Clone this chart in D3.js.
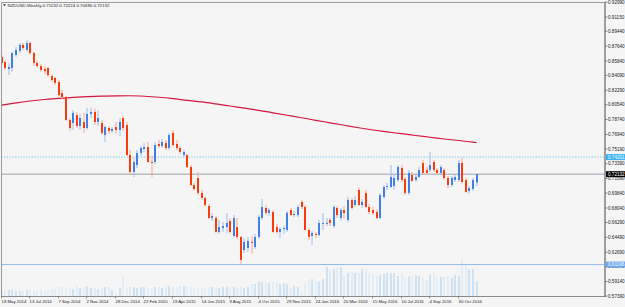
<!DOCTYPE html>
<html><head><meta charset="utf-8">
<script src="https://cdn.jsdelivr.net/npm/d3@7"></script>
<style>html,body{margin:0;padding:0;background:#f5f5f5;overflow:hidden}</style>
</head><body>
<svg id="c" width="625" height="307"></svg>
<script>
const titleText = "NZDUSD,Weekly 0.71132 0.72224 0.70690 0.72132";
const open = [.8631,.8571,.8486,.8498,.8655,.8704,.8777,.8716,.8801,.8680,.8559,.8522,.8486,.8498,.8401,.8377,.8329,.8196,.8147,.7869,
.7833,.7929,.7796,.7845,.7772,.7942,.7966,.7845,.7833,.7687,.7772,.7736,.7784,.7748,.7893,.7808,.7445,.7240,.7324,.7470,
.7518,.7542,.7361,.7361,.7579,.7554,.7591,.7530,.7712,.7579,.7530,.7445,.7445,.7300,.7082,.7167,.6986,.6925,.6828,.6683,
.6683,.6514,.6562,.6574,.6647,.6465,.6574,.6453,.6296,.6320,.6393,.6332,.6453,.6683,.6804,.6744,.6756,.6574,.6514,.6550,
.6538,.6780,.6719,.6719,.6877,.6816,.6538,.6465,.6490,.6477,.6611,.6611,.6659,.6586,.6804,.6683,.6780,.6659,.6901,.6840,
.7022,.6840,.6986,.6816,.6780,.6756,.6683,.6937,.7058,.7058,.7070,.7143,.7288,.7155,.6986,.7203,.7143,.7179,.7349,.7264,
.7264,.7361,.7264,.7228,.7264,.7167,.7082,.7143,.7143,.7349,.7143,.7010,.7034,.71132];
const high = [.8655,.8595,.8559,.8692,.8752,.8801,.8801,.8836,.8813,.8692,.8583,.8547,.8522,.8510,.8426,.8389,.8353,.8232,.8159,.7893,
.7990,.7966,.7942,.7954,.8014,.8014,.8002,.7990,.7869,.7808,.7796,.7784,.7845,.7893,.7917,.7845,.7506,.7409,.7506,.7554,
.7591,.7603,.7433,.7603,.7627,.7639,.7627,.7712,.7748,.7627,.7554,.7506,.7458,.7324,.7107,.7240,.7022,.6937,.6853,.6744,
.6707,.6659,.6635,.6744,.6683,.6719,.6683,.6465,.6441,.6453,.6465,.6490,.6719,.6913,.6840,.6804,.6780,.6611,.6574,.6586,
.6768,.6804,.6768,.6840,.6901,.6840,.6562,.6526,.6514,.6659,.6744,.6683,.6683,.6840,.6828,.6804,.6828,.6937,.6925,.6949,
.7058,.6913,.7022,.6853,.6816,.6792,.6986,.7082,.7107,.7324,.7203,.7324,.7324,.7179,.7264,.7240,.7216,.7300,.7385,.7300,
.7482,.7385,.7288,.7324,.7288,.7191,.7191,.7216,.7385,.7409,.7167,.7070,.7167,.72224];
const low = [.8534,.8474,.8413,.8450,.8631,.8680,.8716,.8692,.8655,.8522,.8498,.8450,.8426,.8389,.8329,.8292,.8159,.8123,.7857,.7736,
.7748,.7772,.7748,.7712,.7748,.7893,.7808,.7796,.7687,.7603,.7700,.7712,.7700,.7675,.7736,.7433,.7203,.7179,.7288,.7433,
.7482,.7349,.7179,.7337,.7530,.7530,.7506,.7506,.7554,.7506,.7458,.7421,.7288,.7070,.7010,.6961,.6901,.6816,.6671,.6647,
.6502,.6490,.6514,.6502,.6490,.6441,.6429,.6130,.6260,.6272,.6248,.6308,.6429,.6659,.6719,.6707,.6502,.6490,.6441,.6490,
.6514,.6707,.6695,.6695,.6792,.6526,.6417,.6356,.6441,.6465,.6538,.6586,.6586,.6562,.6683,.6647,.6671,.6635,.6780,.6816,
.6828,.6804,.6804,.6732,.6719,.6671,.6671,.6913,.7022,.7046,.7022,.7119,.7119,.6961,.6961,.7119,.7119,.7167,.7203,.7203,
.7240,.7240,.7203,.7203,.7143,.7046,.7058,.7119,.7119,.7095,.6986,.6974,.7010,.70690];
const close = [.8559,.8498,.8510,.8680,.8716,.8777,.8740,.8801,.8680,.8559,.8522,.8474,.8462,.8413,.8353,.8317,.8171,.8147,.7869,.7772,
.7954,.7796,.7893,.7772,.7942,.7966,.7845,.7893,.7712,.7784,.7736,.7760,.7748,.7845,.7772,.7445,.7240,.7361,.7470,.7530,
.7542,.7361,.7349,.7566,.7554,.7603,.7530,.7687,.7566,.7530,.7482,.7482,.7300,.7082,.7034,.6986,.6925,.6840,.6683,.6707,
.6514,.6574,.6586,.6623,.6514,.6683,.6453,.6175,.6393,.6405,.6381,.6453,.6695,.6816,.6744,.6780,.6514,.6514,.6550,.6562,
.6744,.6719,.6732,.6816,.6816,.6538,.6453,.6502,.6477,.6623,.6623,.6623,.6623,.6816,.6719,.6780,.6744,.6901,.6804,.6901,
.6840,.6877,.6816,.6756,.6744,.6683,.6961,.7058,.7070,.7179,.7167,.7300,.7143,.6986,.7228,.7131,.7179,.7264,.7228,.7228,
.7324,.7264,.7228,.7300,.7167,.7082,.7167,.7179,.7349,.7119,.6998,.7046,.7143,.72132];
const volume = [6,6,6,6,5,5,5,6,6,5,6,7,5,6,7,7,9,9,9,7,7,10,8,9,10,8,8,7,8,9,9,6,3,8,21,9,9,9,8,9,
9,8,7,9,9,8,10,10,10,9,10,10,10,9,9,8,9,8,9,9,8,8,9,9,8,9,8,9,8,9,12,12,14,14,14,13,14,14,12,13,
12,8,10,9,5,13,16,17,15,14,17,29,26,27,28,29,20,23,24,23,23,27,27,23,22,20,21,22,23,23,23,20,22,18,20,20,21,20,18,16,
21,23,19,19,19,20,18,21,20,37,32,27,27,15];
const maIndex = [0,4,8,12,16,20,24,28,32,36,40,44,48,52,56,60,64,68,72,76,80,84,88,92,96,100,104,108,112,116,120,124,128,132,133];
const maValue = [.8049,.8075,.8099,.8117,.8130,.8142,.8151,.8157,.8161,.8162,.8156,.8144,.8127,.8106,.8088,.8064,.8038,.8012,.7986,.7956,
.7926,.7896,.7865,.7835,.7805,.7775,.7748,.7724,.7703,.7681,.7660,.7639,.7621,.7600,.7596];
const priceTicks = [0.92990,0.91150,0.89440,0.87640,0.85840,0.84090,0.82290,0.80540,0.78740,0.76940,0.75190,0.73390,0.71590,0.69840,0.68040,0.66290,0.64490,0.62690,0.60940,0.59140,0.57390];
const dateTickIndex = [0,8,16,24,32,40,48,56,64,72,80,88,96,104,112,120,128];
const dateTickLabels = ["18 May 2014","13 Jul 2014","7 Sep 2014","2 Nov 2014","28 Dec 2014","22 Feb 2015","19 Apr 2015","14 Jun 2015","9 Aug 2015","4 Oct 2015","29 Nov 2015","24 Jan 2016","20 Mar 2016","15 May 2016","10 Jul 2016","4 Sep 2016","30 Oct 2016"];
const bidLevel = 0.72132, dottedLevel = 0.74201, hLineLevel = 0.61196;

const svg = d3.select("#c");
const W = 625, H = 307, L = 1, R = 605, T = 2, B = 296.5;
const FONT = "'Liberation Sans', Arial, sans-serif";
const x = d3.scaleLinear().domain([0, 133]).range([1.7, 476.5]);
const y = d3.scaleLinear().domain([0.5739, 0.9321]).range([296, 0]);
const vy = d3.scaleLinear().domain([0, 40]).range([296, 256]);

svg.append("rect").attr("width", W).attr("height", H).attr("fill", "#f5f5f5");
const plot = svg.append("g");
plot.append("clipPath").attr("id","pc").append("rect").attr("x",L).attr("y",T).attr("width",R-L).attr("height",B-T);
const g = plot.append("g").attr("clip-path","url(#pc)");

const n = close.length;
const idx = d3.range(n);
g.selectAll("rect.v").data(idx).join("rect")
  .attr("x", i => Math.round(x(i)) - 0.5).attr("width", 1)
  .attr("y", i => vy(volume[i])).attr("height", i => vy(0) - vy(volume[i]))
  .attr("fill", i => close[i] >= open[i] ? "#a6d2f2" : "#cfe5f6");

g.append("line").attr("x1",L).attr("x2",R).attr("y1",y(dottedLevel)).attr("y2",y(dottedLevel))
  .attr("stroke","#41b6e6").attr("stroke-width",0.8).attr("stroke-dasharray","1.2,1.6");
g.append("line").attr("x1",L).attr("x2",R).attr("y1",y(bidLevel)).attr("y2",y(bidLevel))
  .attr("stroke","#8f9aa4").attr("stroke-width",0.9);
g.append("line").attr("x1",L).attr("x2",R).attr("y1",y(hLineLevel)).attr("y2",y(hLineLevel))
  .attr("stroke","#86b4f0").attr("stroke-width",0.9);

const line = d3.line().x(d => x(d[0])).y(d => y(d[1])).curve(d3.curveMonotoneX);
g.append("path").attr("d", line(maIndex.map((k, j) => [k, maValue[j]])))
  .attr("fill","none").attr("stroke","#d3173f").attr("stroke-width",1.2);

const up = i => close[i] >= open[i];
g.selectAll("line.w").data(idx).join("line")
  .attr("x1", i => Math.round(x(i))).attr("x2", i => Math.round(x(i)))
  .attr("y1", i => y(high[i])).attr("y2", i => y(low[i]))
  .attr("stroke", i => up(i) ? "#9bbcf0" : "#f6a68e").attr("stroke-width", 1);
g.selectAll("rect.b").data(idx).join("rect")
  .attr("x", i => Math.round(x(i)) - 1).attr("width", 2)
  .attr("y", i => y(Math.max(open[i], close[i])))
  .attr("height", i => Math.max(0.8, Math.abs(y(open[i]) - y(close[i]))))
  .attr("fill", i => up(i) ? "#3f80e6" : "#fa3c0c");

svg.append("line").attr("x1",L+0.5).attr("x2",L+0.5).attr("y1",T).attr("y2",B).attr("stroke","#9a9a9a").attr("stroke-width",1);
svg.append("line").attr("x1",L).attr("x2",R).attr("y1",T+0.5).attr("y2",T+0.5).attr("stroke","#9a9a9a").attr("stroke-width",1);
svg.append("line").attr("x1",L).attr("x2",R+1).attr("y1",B).attr("y2",B).attr("stroke","#8a8a8a").attr("stroke-width",1);
svg.append("line").attr("x1",R).attr("x2",R).attr("y1",T).attr("y2",B).attr("stroke","#8a8a8a").attr("stroke-width",1.6);

const pa = svg.append("g");
priceTicks.forEach(v => {
  const yy = Math.max(y(v), 2.2);
  pa.append("line").attr("x1",R).attr("x2",R+2.5).attr("y1",yy).attr("y2",yy).attr("stroke","#555").attr("stroke-width",0.7);
  pa.append("text").attr("x",R+3).attr("y",yy).attr("dy","0.35em").text(v.toFixed(5))
    .attr("font-family",FONT).attr("font-size",4.6).attr("fill","#222");
});
function tag(v, bg, fg) {
  const yy = y(v);
  pa.append("rect").attr("x",R+1).attr("y",yy-3).attr("width",19).attr("height",6).attr("fill",bg);
  pa.append("text").attr("x",R+3).attr("y",yy).attr("dy","0.35em").text(v.toFixed(5))
    .attr("font-family",FONT).attr("font-size",4.6).attr("fill",fg);
}
tag(dottedLevel, "#39b4f2", "#ffffff");
tag(bidLevel, "#000000", "#ffffff");
tag(hLineLevel, "#6aa6f2", "#ffffff");

dateTickIndex.forEach((k, j) => {
  const xx = Math.round(x(k));
  svg.append("line").attr("x1",xx-0.5).attr("x2",xx-0.5).attr("y1",B).attr("y2",B+2).attr("stroke","#555").attr("stroke-width",0.6);
  svg.append("text").attr("x",xx-0.5).attr("y",303.3).text(dateTickLabels[j])
    .attr("font-family",FONT).attr("font-size",4.3).attr("fill","#222");
});

svg.append("path").attr("d","M3,4.2 L6,4.2 L4.5,6.2 Z").attr("fill","#333");
svg.append("text").attr("x",7.5).attr("y",7).text(titleText)
  .attr("font-family",FONT).attr("font-size",4.4).attr("fill","#222");
</script>
</body></html>
